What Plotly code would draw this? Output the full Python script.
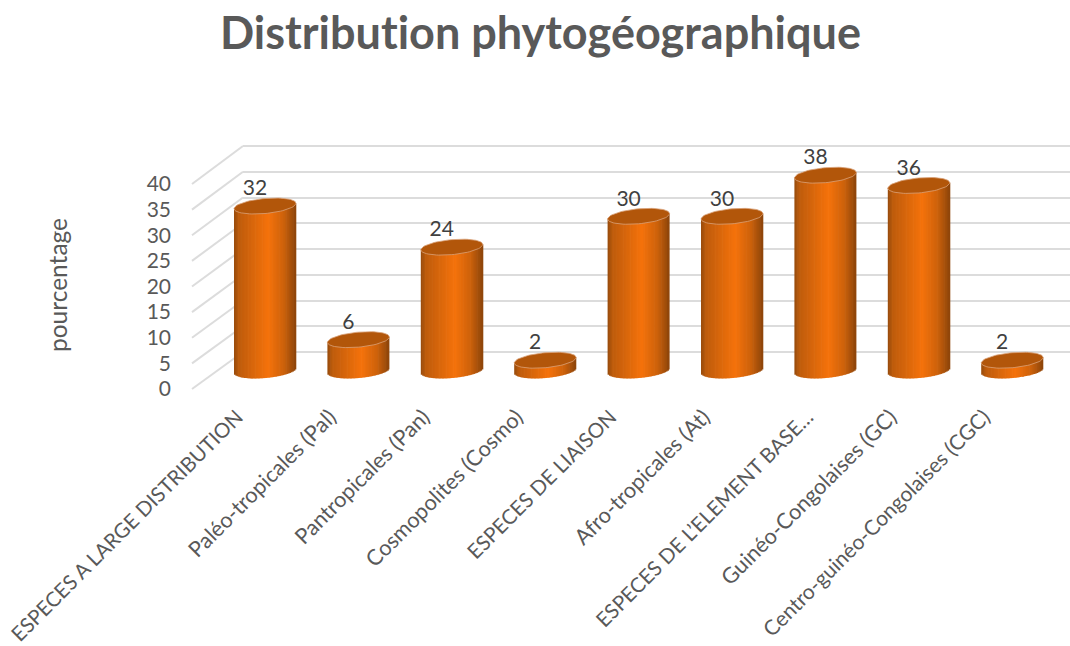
import math
import plotly.graph_objects as go

categories = ["ESPECES A LARGE DISTRIBUTION", "Paléo-tropicales (Pal)", "Pantropicales (Pan)",
              "Cosmopolites (Cosmo)", "ESPECES DE LIAISON", "Afro-tropicales (At)",
              "ESPECES DE L’ELEMENT BASE…", "Guinéo-Congolaises (GC)", "Centro-guinéo-Congolaises (CGC)"]
values = [32, 6, 24, 2, 30, 30, 38, 36, 2]
y_ticks = [0, 5, 10, 15, 20, 25, 30, 35, 40]
title = "Distribution phytogéographique"
y_title = "pourcentage"

W, H = 1070, 646
FONT = "Lato"
GREY = "#595959"
GRID = "#DCDCDC"
STOPS = [(0, (150, 74, 12)), (0.08, (190, 92, 12)), (0.55, (245, 114, 11)), (0.8, (205, 98, 11)), (1, (140, 68, 10))]
CAP = "#B2560A"
CAP_EDGE = "#D9A27A"


def shade(t):
    for (a, ca), (b, cb) in zip(STOPS, STOPS[1:]):
        if t <= b:
            f = (t - a) / (b - a)
            return "rgb(%d,%d,%d)" % tuple(round(p + (q - p) * f) for p, q in zip(ca, cb))
    return "rgb(%d,%d,%d)" % STOPS[-1][1]


def dom_y(bottom_px, top_px):
    return [1 - bottom_px / H, 1 - top_px / H]


def tick_label(c):
    # the mixed-case labels run about 7% longer than the capitals in the reference;
    # the longest one is held back a little so that it stays inside the page
    if c == c.upper():
        return c
    return '<span style="font-size:%spx">%s</span>' % (21 if len(c) > 30 else 21.7, c)


PX_PER_X = 93.4
PX_PER_Y = 5.14
Y0_BAR = 370.5
X0 = 265.0
half_w = 31.0 / PX_PER_X
ell_b = 7.5 / PX_PER_Y
ell_t = 2.7 / PX_PER_Y
N = 44

fig = go.Figure()

# back-wall gridlines
fig.add_trace(go.Scatter(x=[0, 1], y=[0, 40], mode="markers", marker=dict(opacity=0), hoverinfo="skip",
                         showlegend=False, xaxis="x", yaxis="y"))
# axis labels plane
pos = list(range(len(categories)))
fig.add_trace(go.Scatter(x=pos, y=[0] * len(pos), mode="markers", marker=dict(opacity=0), hoverinfo="skip",
                         showlegend=False, xaxis="x2", yaxis="y2"))

# cylinders: vertical strips
dw = 2 * half_w / N
for k in range(N):
    u = -1 + 2 * (k + 0.5) / N
    s = math.sqrt(max(0.0, 1 - u * u))
    base = ell_t * u - ell_b * s
    tops = [v + ell_t * u for v in values]
    fig.add_trace(go.Bar(x=pos, y=[t - base for t in tops], base=[base] * len(pos),
                         width=dw * (1.5 if k < N - 1 else 1), offset=u * half_w - dw / 2,
                         marker=dict(color=shade((k + 0.5) / N), line=dict(width=0)),
                         hoverinfo="skip", showlegend=False, xaxis="x3", yaxis="y3"))

# top caps
for i, v in zip(pos, values):
    steps = [2 * math.pi * j / 72 for j in range(73)]
    fig.add_trace(go.Scatter(
        x=[i + half_w * math.cos(a) for a in steps],
        y=[v + ell_t * math.cos(a) + ell_b * math.sin(a) for a in steps],
        mode="lines", fill="toself", fillcolor=CAP, line=dict(color=CAP_EDGE, width=0.8),
        hoverinfo="skip", showlegend=False, xaxis="x3", yaxis="y3"))

# data labels
fig.add_trace(go.Scatter(x=[i - 10 / PX_PER_X for i in pos], y=[v + 16 / PX_PER_Y for v in values],
                         text=[str(v) for v in values], mode="text", textposition="middle center",
                         textfont=dict(family=FONT, size=21, color="#404040"),
                         hoverinfo="skip", showlegend=False, xaxis="x3", yaxis="y3"))

# side-wall lines, one per tick
WALL_Y0, WALL_PX = 352.0, 206.0 / 40
SIDE_Y0, SIDE_PX = 389.0, 205.0 / 40
shapes = []
for t in y_ticks:
    shapes.append(dict(type="line", xref="paper", yref="paper", layer="below",
                       x0=192 / W, y0=1 - (SIDE_Y0 - t * SIDE_PX) / H,
                       x1=243 / W, y1=1 - (WALL_Y0 - t * WALL_PX) / H,
                       line=dict(color=GRID, width=2)))

LABEL_DX = -28
label_ticks = [p + (10 / PX_PER_X if p == 6 else 0) for p in pos]
tickfont = dict(family=FONT, size=21, color=GREY)
fig.update_layout(
    width=W, height=H, margin=dict(l=0, r=0, t=0, b=0, autoexpand=False), paper_bgcolor="white",
    plot_bgcolor="rgba(0,0,0,0)",
    barmode="overlay", showlegend=False, shapes=shapes,
    title=dict(text="<b>%s</b>" % title, x=540.5 / W, xanchor="center", y=1 - 33 / H, yanchor="middle",
               font=dict(family=FONT, size=45, color=GREY), automargin=False),
    xaxis=dict(domain=[243 / W, 1], range=[0, 1], visible=False, automargin=False),
    yaxis=dict(domain=dom_y(WALL_Y0 + WALL_PX, 146 - WALL_PX), range=[-1, 41], tickvals=y_ticks, showticklabels=False,
               showgrid=True, gridcolor=GRID, gridwidth=2, zeroline=False, showline=False, ticks="", automargin=False),
    xaxis2=dict(domain=[(X0 + LABEL_DX - PX_PER_X / 2) / W, (X0 + LABEL_DX + 8.5 * PX_PER_X) / W],
                range=[-0.5, 8.5], tickmode="array", tickvals=label_ticks,
                ticktext=[tick_label(c) for c in categories], tickangle=-45,
                tickfont=dict(family=FONT, size=20.5, color=GREY), showgrid=False, zeroline=False,
                showline=False, ticks="outside", ticklen=7, tickcolor="rgba(0,0,0,0)", anchor="y2", automargin=False),
    yaxis2=dict(domain=dom_y(SIDE_Y0, 184), range=[0, 40], tickvals=y_ticks, tickfont=tickfont,
                anchor="free", position=171 / W, side="left", showgrid=False, zeroline=False,
                showline=False, ticks="", automargin=False),
    xaxis3=dict(domain=[(X0 - PX_PER_X / 2) / W, (X0 + 8.5 * PX_PER_X) / W], range=[-0.5, 8.5], visible=False,
                automargin=False),
    yaxis3=dict(domain=dom_y(400, 130),
                range=[(Y0_BAR - 400) / PX_PER_Y, (Y0_BAR - 130) / PX_PER_Y], visible=False, automargin=False),
    annotations=[dict(text=y_title, xref="paper", yref="paper", x=57 / W, y=1 - 285 / H, textangle=-90,
                      showarrow=False, xanchor="center", yanchor="middle",
                      font=dict(family=FONT, size=24.5, color=GREY))],
)

css = ("document.body.style.margin='0';"
       "var st=document.createElement('style');"
       "st.textContent='text{font-variant-ligatures:none !important}';"
       "document.head.appendChild(st);")
fig.write_html("out.html", config=dict(displayModeBar=False), post_script=css)
